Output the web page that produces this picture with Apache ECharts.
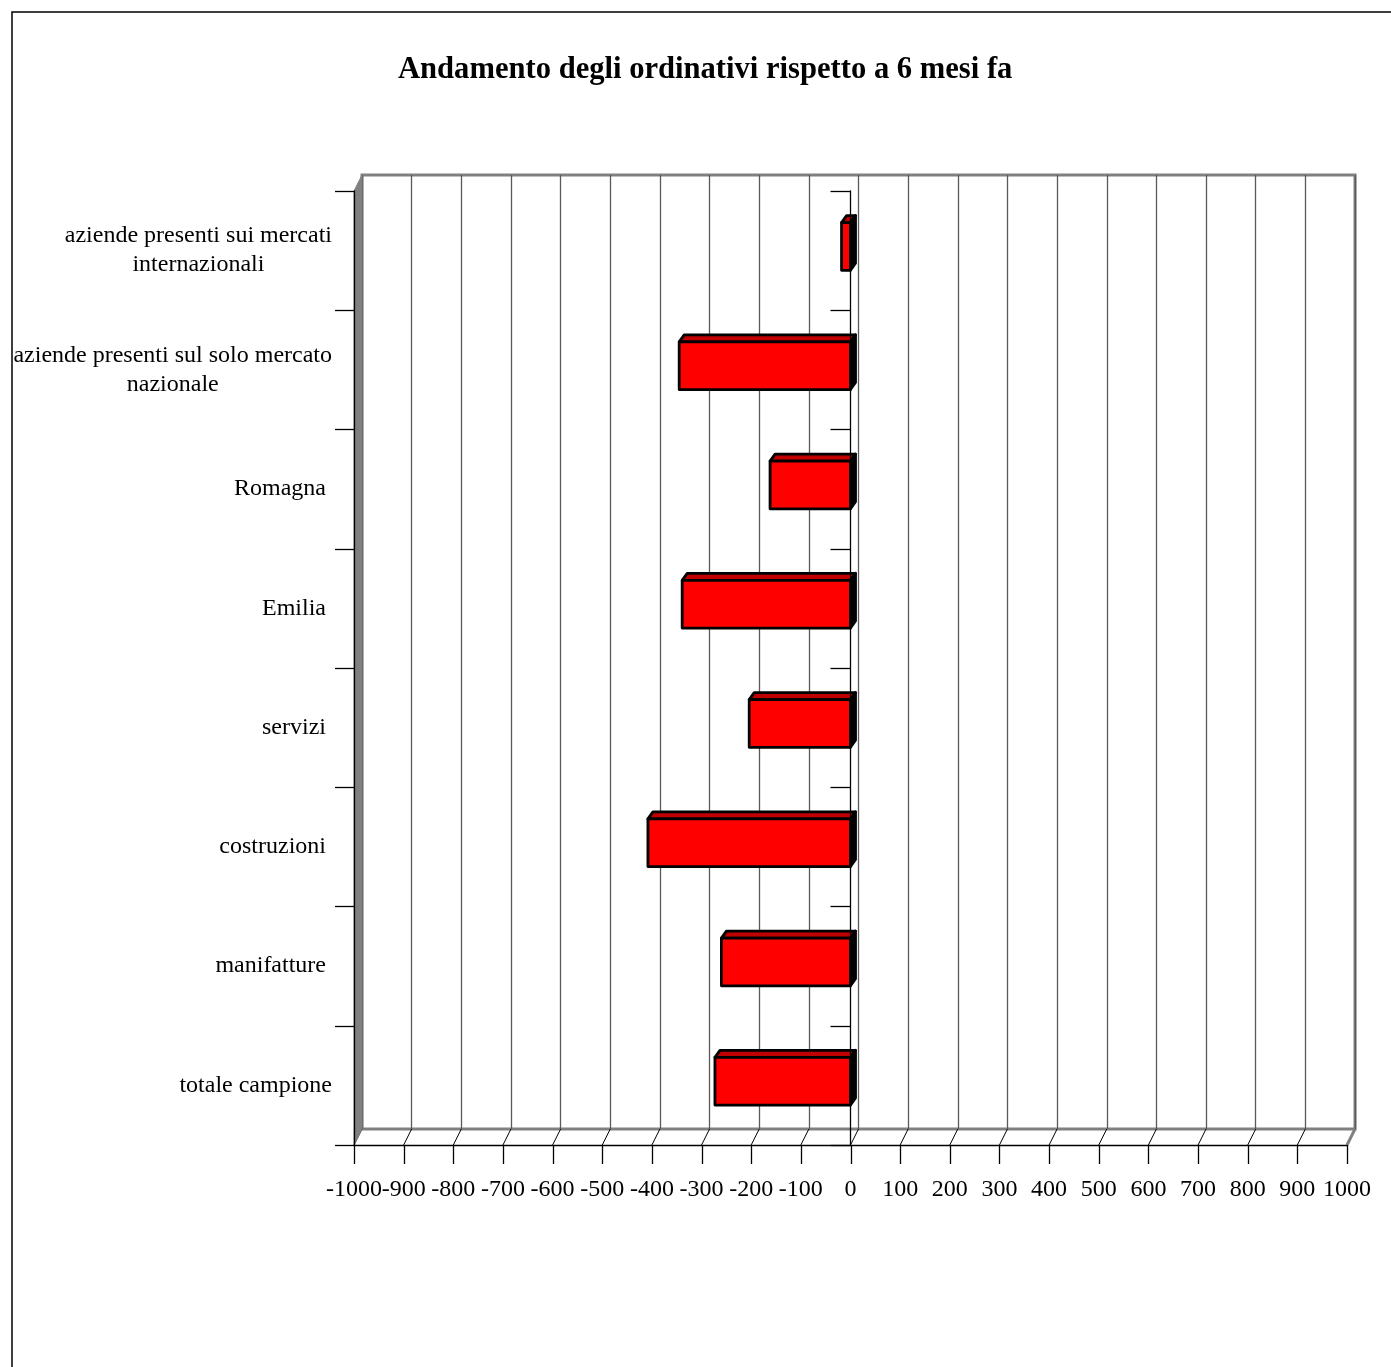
<!DOCTYPE html>
<html>
<head>
<meta charset="utf-8">
<script src="https://cdn.jsdelivr.net/npm/echarts@6/dist/echarts.min.js"></script>
<style>
html,body{margin:0;padding:0;background:#fff;}
#chart{width:1391px;height:1367px;}
</style>
</head>
<body>
<div id="chart"></div>
<script>
// Categories (bottom to top, as in the source chart)
const categories = [
  'totale campione',
  'manifatture ',
  'costruzioni ',
  'servizi ',
  'Emilia ',
  'Romagna ',
  'aziende presenti sul solo mercato\nnazionale',
  'aziende presenti sui mercati\ninternazionali'
];
// Values
const values = [-273, -260, -408, -204, -339, -162, -345, -18];
// Value axis ticks / tick labels
const axisTicks = [-1000,-900,-800,-700,-600,-500,-400,-300,-200,-100,0,100,200,300,400,500,600,700,800,900,1000];
const titleText = 'Andamento degli ordinativi rispetto a 6 mesi fa';

const FONT = '"Liberation Serif", "Times New Roman", serif';
const DX = 8, DY = 16;       // wall depth
const BDX = 5, BDY = 7;      // bar depth

const chart = echarts.init(document.getElementById('chart'), null, {renderer: 'canvas'});

function barItem(params, api) {
  const v = api.value(0), cat = api.value(1);
  const p0 = api.coord([0, cat]);
  const p1 = api.coord([v, cat]);
  const band = api.size([0, 1])[1];
  const h = band * 0.4;
  const yc = p0[1] - band * 0.035;
  const yT = yc - h / 2, yB = yc + h / 2;
  const xL = Math.min(p0[0], p1[0]), xR = Math.max(p0[0], p1[0]);
  const stroke = {stroke: '#000', lineWidth: 2.8, lineJoin: 'round'};
  return {
    type: 'group',
    children: [
      {type: 'polygon', shape: {points: [[xL, yT], [xL + BDX, yT - BDY], [xR + BDX, yT - BDY], [xR, yT]]},
       style: Object.assign({fill: '#C00000'}, stroke)},
      {type: 'polygon', shape: {points: [[xR, yT], [xR + BDX, yT - BDY], [xR + BDX, yB - BDY], [xR, yB]]},
       style: Object.assign({fill: '#000'}, stroke)},
      {type: 'rect', shape: {x: xL, y: yT, width: xR - xL, height: h},
       style: Object.assign({fill: '#FF0000'}, stroke)}
    ]
  };
}

function frameItem(params, api) {
  const cs = params.coordSys;
  const t = api.value(0);
  const bottom = cs.y + cs.height;
  const p = api.coord([t, 0]);
  const x = Math.round(p[0]) + 0.5;
  const children = [];
  const last = params.dataIndex === axisTicks.length - 1;
  // floor slant
  children.push({type: 'line', shape: {x1: p[0], y1: bottom, x2: p[0] + DX, y2: bottom - DY},
    style: {stroke: last ? '#808080' : '#000', lineWidth: last ? 3 : 1}});
  // tick
  children.push({type: 'line', shape: {x1: x, y1: bottom, x2: x, y2: bottom + 19},
    style: {stroke: '#000', lineWidth: 1.3}});
  // tick label
  children.push({type: 'text', style: {
    text: String(t), x: p[0], y: bottom + 45,
    font: '24px ' + FONT, fill: '#000',
    align: 'center', verticalAlign: 'middle',
    textAlign: 'center', textVerticalAlign: 'middle'}});
  if (params.dataIndex === 0) {
    children.push({type: 'polygon',
      shape: {points: [[cs.x, cs.y], [cs.x + DX, cs.y - DY], [cs.x + DX, bottom - DY], [cs.x, bottom]]},
      style: {fill: '#808080', stroke: '#808080', lineWidth: 1}});
  }
  return {type: 'group', children: children};
}

const option = {
  backgroundColor: '#fff',
  animation: false,
  title: {
    text: titleText,
    left: 393, top: 50,
    textStyle: {fontFamily: FONT, fontWeight: 'bold', fontSize: 30.6, color: '#000'}
  },
  graphic: [{
    type: 'rect', z: 100,
    shape: {x: 12, y: 12, width: 1400, height: 1400},
    style: {fill: 'none', stroke: '#000', lineWidth: 1.5}
  }],
  grid: [
    {left: 362, top: 175, width: 993, height: 954, show: true, borderColor: '#808080', borderWidth: 3, backgroundColor: 'transparent'},
    {left: 354, top: 191, width: 993, height: 954, show: false}
  ],
  xAxis: [
    {type: 'value', gridIndex: 0, min: -1000, max: 1000, interval: 100,
     axisLine: {show: false}, axisTick: {show: false}, axisLabel: {show: false},
     splitLine: {show: true, lineStyle: {color: '#5a5a5a', width: 1.3}}},
    {type: 'value', gridIndex: 1, min: -1000, max: 1000, interval: 100, z: 4,
     axisLine: {show: true, onZero: false, lineStyle: {color: '#000', width: 1.3}},
     axisTick: {show: false}, axisLabel: {show: false},
     splitLine: {show: false}}
  ],
  yAxis: [
    {type: 'category', gridIndex: 0, data: categories,
     axisLine: {show: false}, axisTick: {show: false}, axisLabel: {show: false}, splitLine: {show: false}},
    {type: 'category', gridIndex: 1, data: categories, position: 'left', z: 4,
     axisLine: {show: true, onZero: false, lineStyle: {color: '#000', width: 1.3}},
     axisTick: {show: true, length: 19, lineStyle: {color: '#000', width: 1.3}},
     axisLabel: {
       show: true, margin: 22, align: 'right', interval: 0,
       formatter: function (val) { return val.split('\n').map(function (s) { return '{c|' + s + '}'; }).join('\n'); },
       rich: {c: {fontFamily: FONT, fontSize: 24, color: '#000', align: 'center', lineHeight: 29}}
     },
     splitLine: {show: false}},
    {type: 'category', gridIndex: 1, data: categories, position: 'right', z: 4,
     axisLine: {show: true, onZero: true, lineStyle: {color: '#000', width: 1.3}},
     axisTick: {show: true, inside: true, length: 20, lineStyle: {color: '#000', width: 1.3}},
     axisLabel: {show: false}, splitLine: {show: false}}
  ],
  series: [
    {type: 'custom', name: 'frame', xAxisIndex: 1, yAxisIndex: 1, z: 1, silent: true, clip: false,
     renderItem: frameItem, data: axisTicks.map(function (t) { return [t]; }), encode: {x: 0}},
    {type: 'custom', name: 'ordinativi', xAxisIndex: 1, yAxisIndex: 1, z: 3,
     renderItem: barItem,
     data: values.map(function (v, i) { return [v, i]; }),
     encode: {x: 0, y: 1}}
  ]
};
chart.setOption(option);
</script>
</body>
</html>
